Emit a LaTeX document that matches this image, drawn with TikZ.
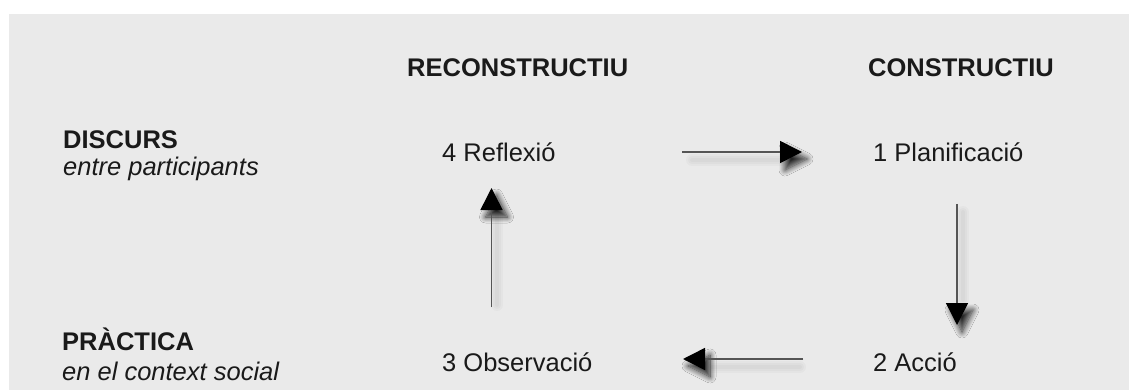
\documentclass[tikz,border=0pt]{standalone}
\usepackage{fontspec}
\setmainfont{Liberation Sans}
\usetikzlibrary{arrows.meta,shadows.blur}
\definecolor{bggray}{HTML}{EAEAEA}
\definecolor{linegray}{HTML}{555555}
\definecolor{txt}{HTML}{1A1A1A}
\tikzset{
  lbl/.style={anchor=base west,inner sep=0pt,text=txt,font=\fontsize{25.5}{30}\selectfont},
  bold/.style={lbl,font=\fontsize{25.5}{30}\selectfont\bfseries},
  ital/.style={lbl,font=\fontsize{25.5}{30}\selectfont\itshape},
  conn/.style={draw=linegray,line width=1.5pt,-{Triangle[length=22pt,width=22pt,fill=black,color=black]}},
  tipshadow/.style={blur shadow={shadow xshift=5pt,shadow yshift=-7pt,shadow blur radius=6pt,shadow opacity=85,shadow blur steps=12}},
  softline/.style={line cap=round,draw=black,opacity=0.025}
}
\begin{document}
\begin{tikzpicture}[x=1pt,y=1pt]
\useasboundingbox (0,0) rectangle (1129,-390);
\fill[white] (0,0) rectangle (1129,-390);
\fill[bggray] (9,-14) rectangle (1129,-390);

% column and row headers
\node[bold] (rec) at (407,-77) {RECONSTRUCTIU};
\node[bold] (con) at (868,-77) {CONSTRUCTIU};
\node[bold] (disc) at (63,-149) {DISCURS};
\node[ital] (discs) at (63,-176) {entre participants};
\node[bold] (prac) at (62,-350) {PRÀCTICA};
\node[ital] (pracs) at (62,-380) {en el context social};

% steps
\node[lbl] (s4) at (442,-162) {4 Reflexió};
\node[lbl] (s1) at (873,-162) {1 Planificació};
\node[lbl] (s3) at (442,-371) {3 Observació};
\node[lbl] (s2) at (873,-371) {2 Acció};

% arrow end points
\coordinate (a1s) at (682,-152);
\coordinate (a1e) at (802,-152);
\coordinate (a2s) at (957,-204);
\coordinate (a2e) at (957,-325);
\coordinate (a3s) at (803,-359);
\coordinate (a3e) at (683,-359);
\coordinate (a4s) at (491.5,-307);
\coordinate (a4e) at (491.5,-188);

% soft line shadows
\foreach \w in {4,8,12} {
  \draw[softline,line width=\w pt] (692,-160) -- (782,-160);
  \draw[softline,line width=\w pt] (963,-212) -- (963,-300);
  \draw[softline,line width=\w pt] (712,-367) -- (800,-367);
  \draw[softline,line width=\w pt] (497,-215) -- (497,-305);
}

% tip shadows
\path[tipshadow] (780,-141) -- (802,-152) -- (780,-163) -- cycle;
\path[tipshadow] (946,-303) -- (957,-325) -- (968,-303) -- cycle;
\path[tipshadow] (705,-348) -- (683,-359) -- (705,-370) -- cycle;
\path[tipshadow] (480.5,-210) -- (491.5,-188) -- (502.5,-210) -- cycle;

% arrows
\draw[conn] (a1s) -- (a1e);
\draw[conn] (a2s) -- (a2e);
\draw[conn] (a3s) -- (a3e);
\draw[conn] (a4s) -- (a4e);
\end{tikzpicture}
\end{document}
